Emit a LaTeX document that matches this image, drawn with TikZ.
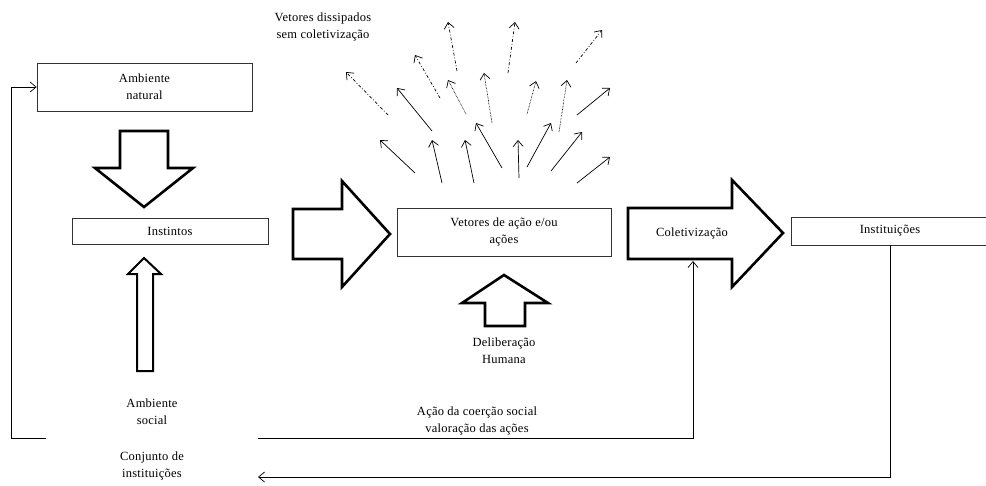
\documentclass[tikz,border=0pt]{standalone}
\usepackage{fontspec}
\setmainfont{Liberation Serif}[LetterSpace=2]
\usetikzlibrary{arrows.meta}

\begin{document}
\begin{tikzpicture}[x=1pt,y=-1pt,line join=miter,
    font=\fontsize{12.5}{17}\selectfont]
  % ----- styles -----
  \tikzset{
    box/.style={draw=black!80,line width=0.7pt,inner sep=0pt,align=center},
    lbl/.style={align=center,inner sep=0pt},
    blockarr/.style={draw=black,line width=2.6pt,fill=white},
    conn/.style={draw=black,line width=0.7pt,-{Straight Barb[length=6pt,width=10pt]}},
    vec/.style={conn},
    vecdot/.style={conn,dash pattern=on 0.6pt off 0.9pt},
    vecdash/.style={conn,dash pattern=on 3pt off 2pt on 0.8pt off 2pt}
  }
  \useasboundingbox (0,0) rectangle (986,485);

  % ----- boxes -----
  \node[box,minimum width=215pt,minimum height=48pt] (natural) at (144.5,87) {Ambiente\\natural};
  \node[box,minimum width=196pt,minimum height=26pt] (instintos) at (170,231) {Instintos};
  \node[box,minimum width=214pt,minimum height=48pt] (vetores) at (504,232) {Vetores de ação e/ou\\ações};
  \node[box,minimum width=198pt,minimum height=28pt] (instit) at (890,231) {Instituições};

  % ----- free labels -----
  \node[lbl] (dissip) at (323,27) {Vetores dissipados\\sem coletivização};
  \node[lbl] (social) at (152,412) {Ambiente\\social};
  \node[lbl] (conjunto) at (152,466) {Conjunto de\\instituições};
  \node[lbl] (delib) at (504,351) {Deliberação\\Humana};
  \node[lbl] (coerc) at (477,421) {Ação da coerção social\\valoração das ações};

  % ----- block arrows -----
  \draw[blockarr] (120,131) -- (168,131) -- (168,168) -- (193,168) -- (144,207)
    -- (95,168) -- (120,168) -- cycle;
  \draw[blockarr,line width=2pt] (137,371) -- (153,371) -- (153,274) -- (161,274)
    -- (144,258) -- (128,274) -- (137,274) -- cycle;
  \draw[blockarr] (293,209) -- (342,209) -- (342,181) -- (390,234) -- (342,287)
    -- (342,259) -- (293,259) -- cycle;
  \draw[blockarr] (628,208) -- (732,208) -- (732,180) -- (783,233) -- (732,287)
    -- (732,259) -- (628,259) -- cycle;
  \draw[blockarr] (485,326) -- (525,326) -- (525,303) -- (548,303) -- (504,275)
    -- (462,303) -- (485,303) -- cycle;
  \node[lbl] (colet) at (692,233) {Coletivização};

  % ----- feedback lines -----
  \coordinate (lstub) at (46,438);
  \coordinate (rstub) at (258,438);
  \coordinate (colbot) at (693,261);
  \coordinate (conjend) at (258,477);
  \draw[conn] (lstub) -- (11,438) |- (natural.west);
  \draw[conn] (rstub) -| (colbot);
  \draw[conn] (instit.south) |- (conjend);

  % ----- action vectors -----
  \foreach \xa/\ya/\xb/\yb in {415/173/380/140, 442/183/432/140, 474/183/465/140,
      502/168/476/123, 519/178/518/140, 527/167/551/123, 551/171/582/132,
      577/183/610/157, 577/115/610/88, 432/131/397/88}{
    \draw[vec] (\xa,\ya) -- (\xb,\yb);
  }
  \foreach \xa/\ya/\xb/\yb in {466/114/448/80, 492/123/484/73, 527/114/536/81,
      559/132/567/80}{
    \draw[vecdot] (\xa,\ya) -- (\xb,\yb);
  }
  \foreach \xa/\ya/\xb/\yb in {388/115/346/72, 440/98/415/55, 457/71/448/22,
      508/73/515/22, 576/63/602/30}{
    \draw[vecdash] (\xa,\ya) -- (\xb,\yb);
  }

\end{tikzpicture}
\end{document}
